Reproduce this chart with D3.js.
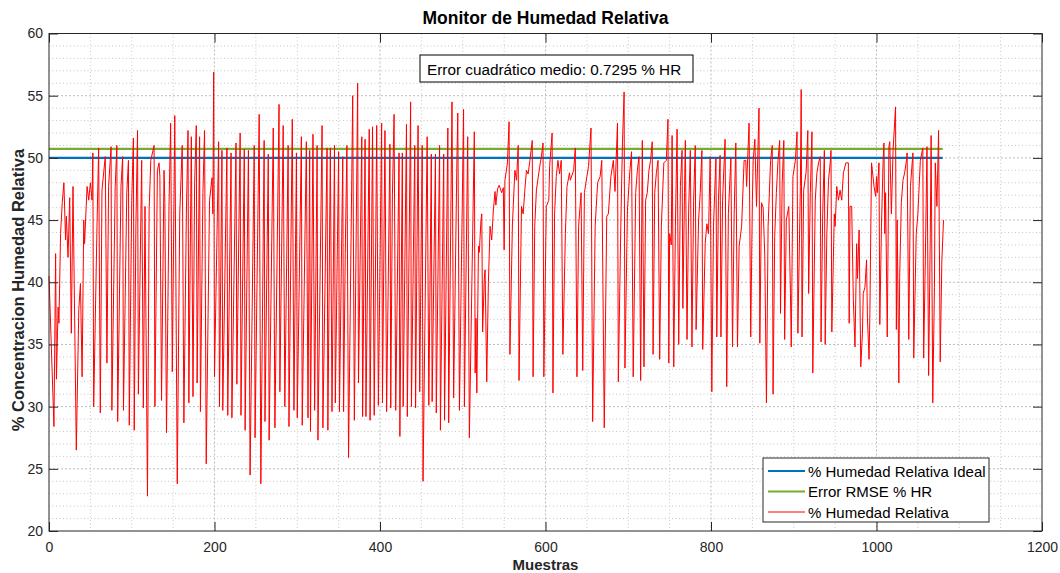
<!DOCTYPE html>
<html>
<head>
<meta charset="utf-8">
<script src="https://cdn.jsdelivr.net/npm/d3@7"></script>
<style>
  body { margin: 0; background: #fff; }
  svg text { font-family: "Liberation Sans", Arial, sans-serif; }
</style>
</head>
<body>
<svg id="chart" width="1060" height="573"></svg>
<script>
// sample index (Muestras)
const muestras = [
  0, 6, 8, 9, 11, 12, 14, 16, 18, 20, 21, 23, 25, 27, 29, 33, 36, 38, 40, 42, 43, 46, 48, 50, 52, 53, 54, 58, 60, 62,
  64, 68, 70, 72, 75, 76, 80, 82, 83, 87, 89, 90, 94, 96, 97, 100, 102, 103, 105, 107, 108, 112, 114, 116, 119, 121, 123, 127, 128, 131,
  133, 134, 136, 139, 140, 142, 145, 147, 149, 152, 155, 158, 161, 163, 166, 168, 169,
  172, 174, 176, 178, 179, 182, 183, 186, 188, 190, 194, 197, 198, 199, 200, 205, 206, 209, 210, 215, 216, 220, 221, 226, 227, 231, 232, 236,
  237, 241, 243, 248, 249, 254, 256, 260, 261, 265, 266, 271, 273, 278, 279, 283, 285, 289, 290, 294, 296, 299, 300, 305, 306, 311, 313, 315,
  316, 319, 321, 324, 325, 330, 331, 336, 337, 340, 342, 345, 346, 350, 351, 355, 356, 358, 360, 362,
  367, 369, 373, 374, 378, 379, 382, 383, 387, 388, 391, 393, 396, 398, 402, 403, 406, 408, 412, 413, 415, 417, 419, 423, 424, 427, 428, 432,
  433, 437, 438, 442, 443, 446, 448, 451, 452, 457, 459, 462, 463, 467, 468, 472, 473, 477, 478, 482, 483, 487, 489, 493, 494, 496, 501, 502,
  506, 508, 514, 515, 516, 517, 519, 520, 522, 523, 524, 526, 527, 529, 531, 533, 535, 537, 539, 540, 542,
  544, 547, 549, 550, 551, 554, 556, 557, 560, 563, 565, 567, 568, 571, 573, 575, 577, 579, 581, 584, 585, 587, 589, 593, 595, 597, 598,
  601, 604, 605, 608, 609, 611, 613, 615, 617, 619, 621, 624, 626, 629, 630, 634, 636, 638, 640, 643, 645, 647, 650, 652, 655, 657, 660,
  663, 666, 668, 671, 674, 676, 679, 682, 684, 687, 688, 691, 693, 695, 696, 699, 702, 704, 706, 709, 711, 713, 715,
  717, 719, 721, 723, 725, 727, 729, 730, 732, 734, 736, 738, 740, 743, 746, 748, 749, 750, 752, 753, 755, 757, 759, 761, 763, 765, 766,
  768, 769, 771, 773, 775, 777, 779, 781, 782, 785, 787, 789, 790, 793, 795, 797, 799, 801, 803, 806, 807, 809, 811, 812, 814, 817, 819,
  821, 824, 826, 828, 830, 832, 834, 837, 840, 842, 843, 846, 848, 850, 851, 853, 855, 858, 859, 861, 863, 865, 867, 869, 872, 874, 875,
  877, 879, 881, 883, 884, 886, 888, 889, 891, 894, 896, 897,
  899, 902, 904, 905, 908, 909, 910, 912, 915, 917, 918, 920, 922, 923, 926, 928, 930, 932, 933, 935, 937, 938, 940, 942, 944, 945, 946,
  949, 950, 952, 954, 956, 958, 960, 963, 966, 967, 968, 970, 972, 974, 976, 977, 979, 981, 983, 984, 986, 988, 989, 991, 992, 994, 995,
  997, 999, 1000, 1001, 1003, 1004, 1006, 1008, 1009, 1010, 1011, 1013, 1015, 1016, 1018, 1020, 1023, 1024, 1025, 1027, 1028, 1030, 1032,
  1034, 1036, 1037, 1039, 1041, 1044, 1045, 1048, 1050, 1053, 1056, 1057, 1059, 1061, 1063, 1065, 1066, 1068, 1070, 1071, 1073, 1075,
  1077, 1079, 1081
];

// relative humidity (%) at each sample above
const humedad = [
  40.5, 28.4, 42.3, 32.2, 38.0, 36.7, 43.9, 46.4, 48.0, 43.4, 45.3, 42.0, 46.8, 35.9, 47.7, 26.5, 37.8, 39.9, 32.4, 45.0, 43.1, 47.7, 46.6, 48.0, 46.6, 50.4, 30.0, 44.5, 50.8, 29.5,
  47.4, 50.1, 33.5, 47.7, 50.9, 29.7, 47.7, 51.0, 28.8, 47.7, 50.1, 29.7, 47.2, 49.8, 28.5, 46.6, 51.6, 28.1, 44.5, 52.2, 31.0, 49.8, 29.9, 46.1, 22.8, 45.8, 49.8, 51.0, 30.0, 49.0,
  49.6, 48.5, 30.5, 49.0, 46.4, 27.9, 46.1, 52.8, 32.8, 53.4, 23.8, 45.5, 51.0, 28.7, 45.5, 52.2, 30.3,
  51.7, 30.8, 48.0, 52.6, 31.9, 51.7, 29.6, 47.2, 52.2, 25.4, 46.6, 48.4, 45.5, 56.9, 32.4, 51.3, 30.0, 50.6, 29.7, 50.8, 29.3, 50.4, 29.1, 51.2, 31.8, 52.0, 29.3, 50.7,
  28.1, 50.6, 24.5, 51.0, 27.5, 53.5, 23.8, 51.4, 28.8, 50.3, 27.3, 52.4, 28.3, 54.3, 31.2, 52.6, 30.0, 51.0, 28.4, 53.1, 29.7, 50.4, 29.1, 51.7, 28.5, 51.3, 29.1, 50.6,
  28.0, 51.9, 29.7, 51.0, 27.3, 52.6, 28.3, 50.8, 28.1, 50.8, 29.6, 51.0, 30.3, 50.5, 29.6, 50.1, 29.6, 42.3, 51.0, 25.9,
  55.0, 28.9, 56.0, 31.9, 51.7, 29.2, 51.5, 29.2, 52.3, 28.9, 52.5, 29.3, 52.6, 30.1, 52.8, 30.3, 52.2, 29.6, 51.1, 29.9, 47.0, 53.5, 29.7, 50.4, 27.6, 50.4, 30.0, 52.7,
  29.2, 54.5, 30.0, 51.0, 29.9, 52.6, 31.2, 51.0, 24.0, 51.7, 30.1, 50.3, 30.4, 50.3, 29.5, 51.0, 28.1, 50.3, 28.9, 52.4, 28.7, 54.5, 30.7, 50.1, 53.6, 29.7, 53.9, 30.0,
  51.7, 27.5, 52.1, 32.7, 37.1, 31.1, 42.9, 42.4, 45.0, 45.5, 36.0, 40.2, 41.0, 32.0, 40.0, 44.5, 43.4, 45.8, 47.3, 46.2, 47.5,
  47.8, 47.2, 47.6, 42.6, 48.2, 49.6, 52.9, 34.2, 44.6, 49.0, 48.2, 51.0, 32.1, 46.1, 45.5, 47.4, 49.0, 48.7, 49.7, 51.4, 32.4, 44.5, 47.4, 49.3, 50.1, 51.2, 32.4,
  46.1, 46.6, 49.3, 52.0, 31.1, 45.5, 48.5, 49.8, 48.7, 49.8, 34.2, 43.9, 47.7, 48.8, 48.2, 49.0, 50.8, 32.4, 44.5, 47.2, 32.9, 47.2, 48.5, 49.3, 52.4, 28.8, 44.5,
  48.0, 48.5, 49.8, 28.3, 45.3, 45.5, 48.5, 49.8, 47.3, 52.8, 32.0, 44.5, 51.2, 55.3, 33.1, 45.8, 49.0, 50.5, 32.4, 47.2, 49.0, 50.1, 32.1,
  51.4, 33.2, 46.6, 47.2, 49.0, 49.8, 51.3, 34.2, 47.2, 48.8, 49.8, 33.8, 44.5, 49.6, 49.8, 53.1, 33.5, 43.9, 43.0, 51.8, 33.2, 44.5, 52.3, 35.0, 47.7, 50.6, 37.9,
  47.2, 51.4, 35.4, 45.8, 50.6, 34.8, 46.6, 51.0, 36.2, 45.0, 47.2, 50.6, 34.6, 43.1, 44.7, 43.9, 50.1, 31.2, 44.5, 50.0, 35.6, 46.6, 50.2, 35.6, 46.6, 51.5, 31.6,
  45.5, 50.0, 34.8, 45.5, 51.2, 34.8, 42.9, 44.5, 49.8, 49.8, 47.7, 52.8, 35.6, 46.6, 49.8, 51.5, 46.1, 54.0, 35.1, 46.4, 46.0, 42.1, 30.3, 44.5, 49.8, 51.0, 31.0,
  43.7, 47.2, 49.8, 51.4, 37.5, 47.9, 51.4, 35.4, 45.0, 46.1, 39.1, 34.8,
  48.5, 49.8, 52.1, 35.9, 47.7, 55.5, 35.6, 47.4, 48.9, 52.2, 39.1, 47.2, 52.1, 32.7, 46.6, 48.8, 49.6, 50.1, 35.2, 45.5, 50.6, 35.0, 43.9, 48.2, 49.6, 50.6, 36.0,
  45.5, 44.5, 47.7, 46.6, 47.4, 46.6, 48.8, 49.6, 49.6, 36.7, 46.1, 46.1, 38.6, 34.8, 43.1, 40.3, 44.2, 33.2, 35.9, 39.1, 39.6, 41.8, 37.2, 33.8, 37.5, 49.6, 49.0,
  47.7, 46.9, 48.5, 47.2, 49.6, 36.6, 44.5, 49.8, 51.2, 43.9, 47.2, 35.6, 50.9, 51.3, 45.5, 50.6, 54.1, 36.2, 45.0, 31.9, 40.4, 46.4, 48.2,
  48.8, 49.7, 50.4, 35.4, 47.7, 50.4, 33.9, 43.9, 45.5, 49.8, 50.8, 33.9, 41.8, 50.9, 32.5, 43.9, 51.8, 30.3, 39.6, 49.6, 46.1, 52.2,
  33.6, 41.8, 45.0
];

// reference levels
const hrIdeal = 50;
const rmse = 0.7295;
const hrRange = [0, 1080];

const xTicks = [0, 200, 400, 600, 800, 1000, 1200];
const yTicks = [20, 25, 30, 35, 40, 45, 50, 55, 60];

const legendItems = [
  { label: "% Humedad Relativa Ideal", color: "#0072BD", width: 2.2 },
  { label: "Error RMSE % HR", color: "#77AC30", width: 2.2 },
  { label: "% Humedad Relativa", color: "#FF0000", width: 1 }
];

const svg = d3.select("#chart");
const plotL = 49, plotR = 1042, plotT = 33.5, plotB = 531;

const x = d3.scaleLinear().domain([0, 1200]).range([plotL, plotR]);
const y = d3.scaleLinear().domain([20, 60]).range([plotB, plotT]);

// minor grid
const grid = svg.append("g");
grid.selectAll("line.minx")
  .data(d3.range(50, 1200, 50).filter(v => v % 200 !== 0))
  .join("line")
  .attr("x1", d => x(d)).attr("x2", d => x(d))
  .attr("y1", plotT).attr("y2", plotB)
  .attr("stroke", "#c8c8c8").attr("stroke-width", 1)
  .attr("stroke-dasharray", "1,2.5");
grid.selectAll("line.miny")
  .data(d3.range(21, 60, 1).filter(v => v % 5 !== 0))
  .join("line")
  .attr("x1", plotL).attr("x2", plotR)
  .attr("y1", d => y(d)).attr("y2", d => y(d))
  .attr("stroke", "#c8c8c8").attr("stroke-width", 1)
  .attr("stroke-dasharray", "1,2.5");

// major grid
grid.selectAll("line.majx")
  .data(xTicks.slice(1, -1))
  .join("line")
  .attr("x1", d => x(d)).attr("x2", d => x(d))
  .attr("y1", plotT).attr("y2", plotB)
  .attr("stroke", "#bdbdbd").attr("stroke-width", 1)
  .attr("stroke-dasharray", "2,2");
grid.selectAll("line.majy")
  .data(yTicks.slice(1, -1))
  .join("line")
  .attr("x1", plotL).attr("x2", plotR)
  .attr("y1", d => y(d)).attr("y2", d => y(d))
  .attr("stroke", "#bdbdbd").attr("stroke-width", 1)
  .attr("stroke-dasharray", "2,2");

// reference lines
const lineGen = d3.line().x(d => x(d[0])).y(d => y(d[1]));

svg.append("path")
  .attr("d", lineGen(hrRange.map(v => [v, hrIdeal])))
  .attr("stroke", "#0072BD").attr("stroke-width", 2.2).attr("fill", "none");

svg.append("path")
  .attr("d", lineGen(hrRange.map(v => [v, hrIdeal + rmse])))
  .attr("stroke", "#77AC30").attr("stroke-width", 2.2).attr("fill", "none");

// humidity series
svg.append("path")
  .attr("d", lineGen(muestras.map((m, i) => [m, humedad[i]])))
  .attr("stroke", "#FF0000").attr("stroke-width", 1).attr("fill", "none")
  .attr("stroke-linejoin", "round");

// axes (ticks inside, box on)
const tickLen = 9;
const axisColor = "#262626";

const xAxis = d3.axisBottom(x).tickValues(xTicks).tickFormat(d3.format("d"))
  .tickSizeInner(-tickLen).tickSizeOuter(0).tickPadding(11);
const yAxis = d3.axisLeft(y).tickValues(yTicks).tickFormat(d3.format("d"))
  .tickSizeInner(-tickLen).tickSizeOuter(0).tickPadding(6);

const gx = svg.append("g").attr("transform", `translate(0,${plotB})`).call(xAxis);
const gy = svg.append("g").attr("transform", `translate(${plotL},0)`).call(yAxis);
const gxTop = svg.append("g").attr("transform", `translate(0,${plotT})`)
  .call(d3.axisTop(x).tickValues(xTicks).tickSizeInner(-tickLen).tickSizeOuter(0).tickFormat(""));
const gyRight = svg.append("g").attr("transform", `translate(${plotR},0)`)
  .call(d3.axisRight(y).tickValues(yTicks).tickSizeInner(-tickLen).tickSizeOuter(0).tickFormat(""));

[gx, gy, gxTop, gyRight].forEach(g => {
  g.select(".domain").remove();
  g.selectAll(".tick line").attr("stroke", axisColor).attr("stroke-width", 1);
  g.selectAll(".tick text").attr("fill", axisColor).style("font-size", "14px")
    .style("font-family", '"Liberation Sans", Arial, sans-serif');
});

svg.append("rect")
  .attr("x", plotL).attr("y", plotT)
  .attr("width", plotR - plotL).attr("height", plotB - plotT)
  .attr("fill", "none").attr("stroke", axisColor).attr("stroke-width", 1);

// title and labels
svg.append("text")
  .attr("x", (plotL + plotR) / 2).attr("y", 24)
  .attr("text-anchor", "middle")
  .style("font-size", "17.5px").style("font-weight", "bold").attr("fill", "#000")
  .text("Monitor de Humedad Relativa");

svg.append("text")
  .attr("x", (plotL + plotR) / 2).attr("y", 570)
  .attr("text-anchor", "middle")
  .style("font-size", "15px").style("font-weight", "bold").attr("fill", axisColor)
  .text("Muestras");

svg.append("text")
  .attr("transform", "translate(24,290) rotate(-90)")
  .attr("text-anchor", "middle")
  .style("font-size", "16.5px").style("font-weight", "bold").attr("fill", axisColor)
  .text("% Concentracion Humedad Relativa");

// annotation box
const note = svg.append("g").attr("transform", "translate(420,55)");
note.append("rect")
  .attr("width", 273).attr("height", 27)
  .attr("fill", "#fff").attr("stroke", "#000").attr("stroke-width", 1);
note.append("text")
  .attr("x", 7).attr("y", 19.5)
  .style("font-size", "15.3px").attr("fill", "#000")
  .text("Error cuadrático medio: 0.7295 % HR");

// legend
const legend = svg.append("g").attr("transform", "translate(763,458)");
legend.append("rect")
  .attr("width", 226).attr("height", 64)
  .attr("fill", "#fff").attr("stroke", "#262626").attr("stroke-width", 1);
const rows = legend.selectAll("g.row")
  .data(legendItems)
  .join("g")
  .attr("transform", (d, i) => `translate(0,${13 + i * 20.5})`);
rows.append("line")
  .attr("x1", 5).attr("x2", 42)
  .attr("stroke", d => d.color).attr("stroke-width", d => d.width);
rows.append("text")
  .attr("x", 45).attr("y", 5.5)
  .style("font-size", "15px").attr("fill", "#000")
  .text(d => d.label);
</script>
</body>
</html>
